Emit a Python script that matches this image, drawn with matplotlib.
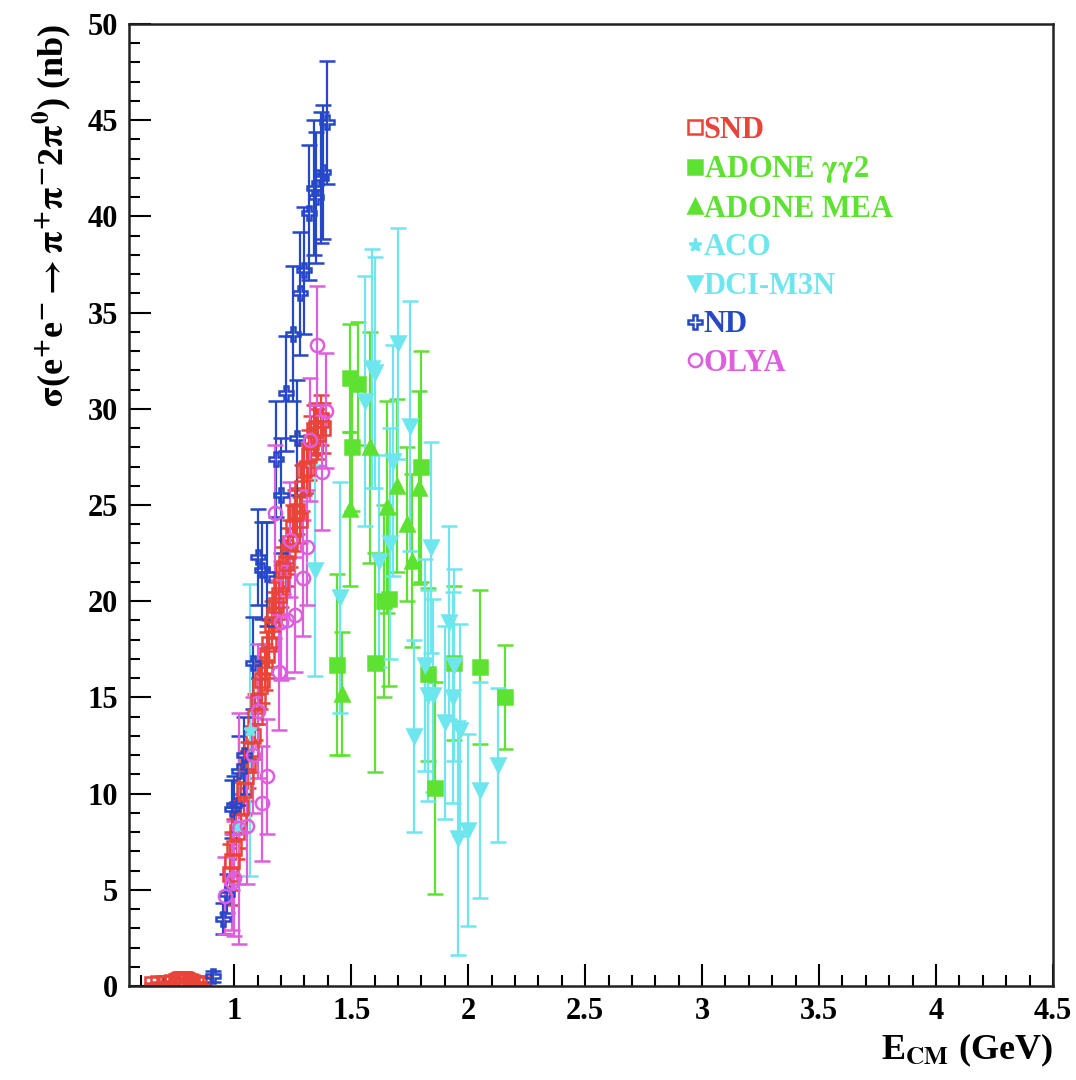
import matplotlib
matplotlib.use("Agg")
import matplotlib.pyplot as plt
from matplotlib.lines import Line2D

plt.rcParams['font.family'] = ['Liberation Serif', 'DejaVu Serif']
plt.rcParams['font.weight'] = 'bold'
plt.rcParams['axes.labelweight'] = 'bold'
plt.rcParams['mathtext.fontset'] = 'stix'
plt.rcParams['mathtext.default'] = 'bf'

# ---- data ----
snd_E = [0.65, 0.675, 0.70, 0.72, 0.735, 0.75, 0.76, 0.77, 0.775, 0.78, 0.785, 0.79,
         0.795, 0.80, 0.81, 0.82, 0.835, 0.85, 0.865,
         0.98, 0.99, 1.00, 1.01, 1.02, 1.03, 1.04, 1.05, 1.06, 1.07, 1.08, 1.09, 1.10,
         1.11, 1.12, 1.13, 1.14, 1.15, 1.16, 1.17, 1.18, 1.19, 1.20, 1.21, 1.22, 1.23,
         1.24, 1.25, 1.26, 1.27, 1.28, 1.29, 1.30, 1.31, 1.32, 1.33, 1.34, 1.35, 1.36,
         1.37, 1.38]
snd_s = [0.12, 0.14, 0.15, 0.18, 0.22, 0.26, 0.3, 0.34, 0.36, 0.38, 0.37, 0.35,
         0.33, 0.3, 0.26, 0.22, 0.18, 0.15, 0.13,
         5.8, 6.5, 7.2, 8.0, 8.6, 9.3, 10.2, 10.9, 11.5, 12.3, 13.0, 14.0, 14.8,
         15.6, 15.9, 16.6, 17.2, 17.8, 18.8, 19.3, 19.8, 20.3, 20.9, 21.6, 22.0, 22.6,
         23.0, 23.8, 24.6, 24.7, 24.2, 25.9, 26.8, 26.9, 27.6, 28.3, 28.9, 29.0, 28.7,
         29.4, 29.0]
snd_err = [0.05] * 19 + [1.6, 1.5, 1.5, 1.4, 1.4, 1.3, 1.3, 1.3, 1.2, 1.2, 1.2, 1.2, 1.2,
                         1.2, 1.2, 1.2, 1.2, 1.2, 1.2, 1.2, 1.2, 1.2, 1.2, 1.2, 1.2, 1.2,
                         1.2, 1.2, 1.2, 1.2, 1.2, 1.2, 1.3, 1.3, 1.3, 1.3, 1.3, 1.3, 1.3,
                         1.3, 1.3]

adone_gg2_E = [1.44, 1.495, 1.505, 1.53, 1.60, 1.64, 1.66, 1.80, 1.83, 1.86, 1.94, 2.05, 2.157]
adone_gg2_s = [16.7, 31.6, 28.0, 31.3, 16.8, 20.0, 20.1, 27.0, 16.2, 10.3, 16.8, 16.6, 15.0]
adone_gg2_err = [4.7, 2.8, 3.3, 3.2, 5.7, 5.0, 4.5, 6.0, 4.5, 5.5, 4.0, 4.0, 2.7]

adone_mea_E = [1.46, 1.495, 1.58, 1.653, 1.695, 1.74, 1.76, 1.79]
adone_mea_s = [15.2, 24.8, 28.0, 24.9, 26.0, 24.0, 22.1, 25.9]
adone_mea_err = [3.2, 4.0, 6.0, 5.5, 4.5, 4.0, 4.5, 5.0]

aco_E = [1.015, 1.068]
aco_s = [8.3, 13.3]
aco_err = [3.0, 7.6]

dci_E = [1.345, 1.45, 1.56, 1.59, 1.60, 1.62, 1.665, 1.68, 1.70, 1.75, 1.77, 1.815,
         1.83, 1.84, 1.85, 1.90, 1.92, 1.935, 1.94, 1.955, 1.965, 2.00, 2.05, 2.127]
dci_s = [21.6, 20.2, 30.4, 32.1, 31.9, 22.1, 23.0, 27.3, 33.4, 29.1, 13.0, 16.7,
         15.1, 22.8, 15.1, 13.7, 18.9, 15.0, 16.7, 7.7, 13.3, 8.1, 10.2, 11.5]
dci_err = [5.5, 6.0, 6.5, 6.2, 6.0, 5.5, 6.0, 6.0, 6.0, 6.5, 5.0, 5.5,
           5.5, 5.5, 5.0, 5.0, 5.0, 5.5, 5.0, 6.1, 5.5, 5.0, 5.6, 4.0]

nd_E = [0.91, 0.95, 0.97, 0.99, 1.00, 1.02, 1.04, 1.08, 1.10, 1.12, 1.14, 1.18,
        1.20, 1.22, 1.25, 1.27, 1.28, 1.30, 1.32, 1.34, 1.35, 1.37, 1.38, 1.395]
nd_s = [0.5, 3.5, 4.8, 9.2, 9.4, 11.2, 12.0, 16.8, 22.3, 21.6, 21.4, 27.4,
        25.5, 30.8, 33.9, 28.5, 36.0, 37.2, 40.2, 41.5, 41.0, 42.0, 42.3, 44.9]
nd_err = [0.3, 0.8, 1.0, 1.5, 1.5, 1.8, 2.0, 2.4, 2.5, 2.5, 2.7, 3.0,
          3.0, 3.0, 3.5, 3.0, 3.2, 3.3, 3.5, 3.5, 3.4, 3.4, 3.5, 3.2]

olya_E = [0.96, 0.99, 1.00, 1.02, 1.055, 1.08, 1.10, 1.12, 1.14, 1.175, 1.19, 1.20,
          1.225, 1.24, 1.26, 1.295, 1.31, 1.325, 1.354, 1.375, 1.39]
olya_s = [4.7, 5.4, 5.6, 8.2, 8.3, 12.0, 14.3, 9.5, 10.9, 24.6, 16.3, 18.9,
          19.0, 23.2, 19.3, 21.2, 22.8, 28.4, 33.3, 26.7, 29.9]
olya_err = [2.0, 2.5, 3.0, 6.0, 3.0, 3.0, 3.5, 3.0, 3.0, 3.5, 3.0, 3.0,
            3.0, 3.0, 3.0, 3.0, 3.0, 3.2, 3.1, 3.0, 3.0]

c_red = '#e8443a'
c_green = '#5ee232'
c_cyan = '#6ee6ee'
c_blue = '#2747c9'
c_pink = '#dd5fdd'

series = [
    ('SND', snd_E, snd_s, snd_err, 's', c_red, 'none'),
    ('ADONE $\\gamma\\gamma$2', adone_gg2_E, adone_gg2_s, adone_gg2_err, 's', c_green, c_green),
    ('ADONE MEA', adone_mea_E, adone_mea_s, adone_mea_err, '^', c_green, c_green),
    ('ACO', aco_E, aco_s, aco_err, '*', c_cyan, c_cyan),
    ('DCI-M3N', dci_E, dci_s, dci_err, 'v', c_cyan, c_cyan),
    ('ND', nd_E, nd_s, nd_err, 'P', c_blue, 'none'),
    ('OLYA', olya_E, olya_s, olya_err, 'o', c_pink, 'none'),
]

fig = plt.figure(figsize=(10.76, 10.80), dpi=100)
ax = fig.add_axes([0.1199, 0.0870, 0.8587, 0.8908])

handles = []
for name, x, y, e, m, col, fc in series:
    ax.errorbar(x, y, yerr=e, fmt=m, color=col, mfc=fc, mec=col, ms=9.5, mew=1.8,
                elinewidth=1.6, capsize=6, capthick=1.6)
    handles.append(Line2D([], [], ls='none', marker=m, color=col, mfc=fc, mec=col,
                          ms=9.5, mew=1.8))

ax.set_xlim(0.55, 4.5)
ax.set_ylim(0, 50)
ax.set_xticks([1, 1.5, 2, 2.5, 3, 3.5, 4, 4.5])
ax.set_xticklabels(['1', '1.5', '2', '2.5', '3', '3.5', '4', '4.5'])
ax.set_xticks([v / 10 for v in range(6, 46)], minor=True)
ax.set_yticks(range(0, 51, 5))
ax.set_yticks(range(0, 51), minor=True)
ax.tick_params(which='both', direction='in', labelsize=22, width=1.5)
ax.tick_params(which='major', length=16, pad=8)
ax.tick_params(which='minor', length=8)
for s in ax.spines.values():
    s.set_linewidth(1.8)
    s.set_color('#222222')

ax.set_xlabel(r'E$_{\mathrm{CM}}$ (GeV)', fontsize=26, loc='right', labelpad=4)
ax.set_ylabel(r'$\sigma$(e$^{+}$e$^{-}\rightarrow\pi^{+}\pi^{-}$2$\pi^{0}$) (nb)',
              fontsize=26, loc='top', labelpad=10)

leg = ax.legend(handles, [s[0] for s in series], loc='upper left',
                bbox_to_anchor=(0.574, 0.933), frameon=False, fontsize=22,
                handlelength=0.5, handletextpad=0.05, labelspacing=0.31,
                labelcolor=[s[5] for s in series])

fig.savefig('out.png', dpi=100)
